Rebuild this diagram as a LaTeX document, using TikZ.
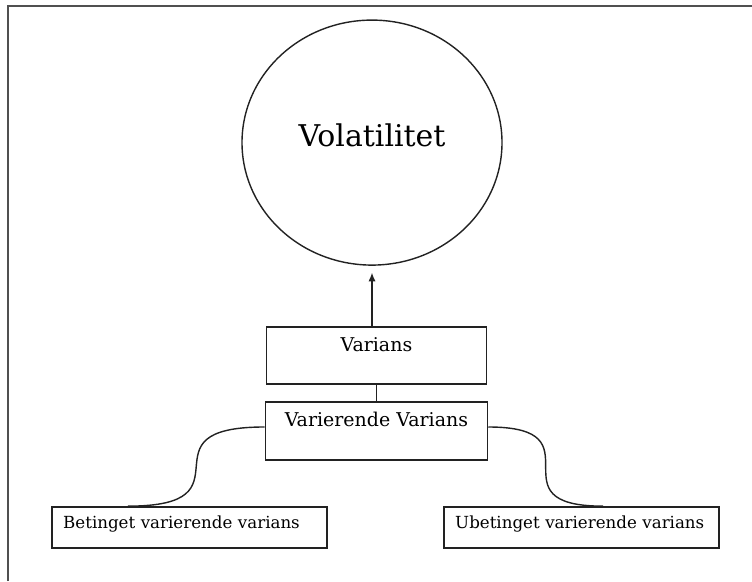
\documentclass[tikz,border=0pt]{standalone}
\usepackage{fontspec}
\setmainfont{DejaVu Serif}
\usepackage{tikz}
\usetikzlibrary{calc, positioning, arrows.meta, shapes.geometric}
\usepackage{xcolor}
\definecolor{frameGray}{RGB}{80, 80, 80}
\definecolor{lineDark}{RGB}{34, 34, 34}

\begin{document}
\begin{tikzpicture}[>={Latex[length=2.2mm, width=1.8mm]},
    topbox/.style={draw=lineDark, line width=1.2pt, rectangle, inner sep=0pt,
      font=\fontsize{13.5pt}{16pt}\selectfont},
    leafbox/.style={draw=lineDark, line width=1.2pt, rectangle, inner xsep=0.28cm,
      inner ysep=0pt, text width=6.315cm, align=left, text height=0.525cm,
      text depth=0.5cm, font=\fontsize{11.85pt}{14pt}\selectfont},
    link/.style={draw=lineDark, line width=1pt}]
  \useasboundingbox (0, 0) rectangle (18.8, 14.525);
  \draw[frameGray, line width=1.5pt] (0.19, 0) -- (0.19, 14.375) -- (18.8, 14.375);

  % Volatilitet
  \node[draw=lineDark, line width=1pt, ellipse, inner sep=0pt,
    minimum width=6.5cm, minimum height=6.125cm, text height=0.6cm, text depth=0.4cm,
    font=\fontsize{21.3pt}{25pt}\selectfont] (vol) at (9.3, 10.96) {Volatilitet};

  % Varians boxes
  \node[topbox, minimum width=5.5cm, text height=0.625cm, text depth=0.8cm]
    (varians) at (9.41, 5.6375) {Varians};
  \node[topbox, minimum width=5.55cm, text height=0.625cm, text depth=0.825cm]
    (vv) at (9.41, 3.75) {Varierende Varians};

  % leaves
  \node[leafbox] (bv) at (4.7375, 1.3375) {Betinget varierende varians};
  \node[leafbox] (uv) at (14.5375, 1.3375) {Ubetinget varierende varians};

  \draw[link, ->, shorten >=0.17cm] (varians.north -| vol.south) -- (vol.south);
  \draw[link] (varians.south) -- (vv.north);
  \draw[link] (vv.base west) to[out=180, in=0, looseness=2.1] ($(bv.north)+(-1.54, 0)$);
  \draw[link] (vv.base east) to[out=0, in=180, looseness=2.1] ($(uv.north)+(0.54, 0)$);
\end{tikzpicture}
\end{document}
